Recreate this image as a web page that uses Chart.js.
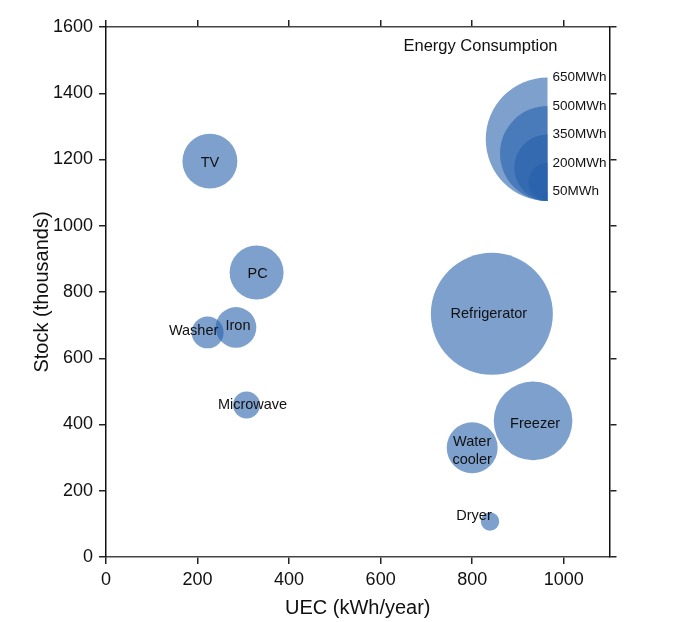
<!DOCTYPE html>
<html>
<head>
<meta charset="utf-8">
<script src="https://cdn.jsdelivr.net/npm/chart.js@4.4.0/dist/chart.umd.min.js"></script>
<style>
  html, body { margin: 0; padding: 0; background: #ffffff; }
  #wrap { width: 696px; height: 622px; }
</style>
</head>
<body>
<div id="wrap"><canvas id="chart" width="696" height="622"></canvas></div>
<script>
// Appliance data: unit energy consumption, installed stock and annual energy use
const appliances = ['TV', 'PC', 'Washer', 'Iron', 'Microwave', 'Refrigerator', 'Freezer', 'Water cooler', 'Dryer'];
const uecKWh = [227, 329, 222, 284, 307, 843, 933, 800, 839];
const stockThousands = [1195, 859, 678, 693, 459, 734, 411, 330, 107];
const energyMWh = [289, 284, 168, 214, 142, 642, 414, 268, 97];

// Size key values
const legendSizes = [650, 500, 350, 200, 50];

// Axis ranges and tick spacing
const xRange = [0, 1100];
const yRange = [0, 1600];
const tickStep = 200;

// Bubble radius in pixels per MWh
const RADIUS_PER_MWH = 0.095;
const FILL = 'rgba(38, 97, 172, 0.6)';
const FONT = '"Liberation Sans", Arial, sans-serif';

// Where each name sits relative to its bubble centre (pixels)
const labelOffsets = {
  'TV': [0, 2], 'PC': [1, 2], 'Washer': [-14, -1], 'Iron': [2, -1],
  'Microwave': [6, 0], 'Refrigerator': [-3, 0], 'Freezer': [2, 3],
  'Water cooler': [0, 3], 'Dryer': [-16, -6]
};

const points = appliances.map((name, i) => ({
  x: uecKWh[i], y: stockThousands[i], r: energyMWh[i] * RADIUS_PER_MWH, name
}));

const bubbleLabels = {
  id: 'bubbleLabels',
  afterDatasetsDraw(chart) {
    const { ctx, scales } = chart;
    ctx.save();
    ctx.font = '14.5px ' + FONT;
    ctx.fillStyle = '#111';
    ctx.textAlign = 'center';
    ctx.textBaseline = 'middle';
    points.forEach(p => {
      const cx = scales.x.getPixelForValue(p.x);
      const cy = scales.y.getPixelForValue(p.y);
      const [dx, dy] = labelOffsets[p.name] || [0, 0];
      const lines = p.name === 'Water cooler' ? ['Water', 'cooler'] : [p.name];
      const lh = 18;
      lines.forEach((ln, k) => {
        ctx.fillText(ln, cx + dx, cy + dy + (k - (lines.length - 1) / 2) * lh);
      });
    });
    ctx.restore();
  }
};

const sizeKey = {
  id: 'sizeKey',
  afterDraw(chart) {
    const { ctx, chartArea } = chart;
    const rightX = chartArea.right - 62;
    const baseY = chartArea.top + 174;
    ctx.save();
    ctx.fillStyle = FILL;
    legendSizes.forEach(v => {
      const r = v * RADIUS_PER_MWH;
      ctx.beginPath();
      ctx.arc(rightX, baseY - r, r, Math.PI / 2, Math.PI * 3 / 2);
      ctx.closePath();
      ctx.fill();
    });
    ctx.fillStyle = '#111';
    ctx.font = '13.5px ' + FONT;
    ctx.textAlign = 'left';
    ctx.textBaseline = 'middle';
    legendSizes.forEach(v => {
      const r = v * RADIUS_PER_MWH;
      ctx.fillText(v + 'MWh', rightX + 5, baseY - 2 * r);
    });
    ctx.font = '16.5px ' + FONT;
    ctx.textAlign = 'center';
    ctx.fillText('Energy Consumption', chartArea.right - 129, chartArea.top + 19);
    ctx.restore();
  }
};

const tickFont = { family: FONT, size: 18 };
const plainNumber = v => String(v);
const vGrid = { drawOnChartArea: false, drawTicks: true, tickLength: 7, color: '#222', lineWidth: 1.5 };
const hGrid = { drawOnChartArea: false, drawTicks: true, tickLength: 7, color: '#222', lineWidth: 1.5 };

new Chart(document.getElementById('chart'), {
  type: 'bubble',
  data: {
    datasets: [{
      data: points,
      backgroundColor: FILL,
      borderWidth: 0,
      hoverBorderWidth: 0
    }]
  },
  options: {
    responsive: false,
    animation: false,
    devicePixelRatio: 1,
    layout: { padding: 0, autoPadding: false },
    plugins: { legend: { display: false }, tooltip: { enabled: false } },
    scales: {
      x: {
        type: 'linear', position: 'bottom', min: xRange[0], max: xRange[1],
        afterFit: s => { s.height = 65; },
        border: { display: true, color: '#444', width: 1.5 },
        grid: hGrid,
        ticks: { stepSize: tickStep, includeBounds: false, color: '#111', font: tickFont, padding: 5, maxRotation: 0, callback: plainNumber },
        title: { display: true, text: 'UEC (kWh/year)', color: '#111', font: { family: FONT, size: 20 }, padding: { top: 0, bottom: 2 } }
      },
      xTop: {
        type: 'linear', position: 'top', min: xRange[0], max: xRange[1],
        afterFit: s => { s.height = 27; },
        border: { display: true, color: '#444', width: 1.5 },
        grid: hGrid,
        ticks: { stepSize: tickStep, includeBounds: false, display: false }
      },
      y: {
        type: 'linear', position: 'left', min: yRange[0], max: yRange[1],
        afterFit: s => { s.width = 106; },
        border: { display: true, color: '#111', width: 1.5 },
        grid: vGrid,
        ticks: { stepSize: tickStep, includeBounds: false, color: '#111', font: tickFont, padding: 6, callback: plainNumber },
        title: { display: true, text: 'Stock (thousands)', color: '#111', font: { family: FONT, size: 20 }, padding: { top: 30, bottom: 0 } }
      },
      yRight: {
        type: 'linear', position: 'right', min: yRange[0], max: yRange[1],
        afterFit: s => { s.width = 86.5; },
        border: { display: true, color: '#111', width: 1.5 },
        grid: vGrid,
        ticks: { stepSize: tickStep, includeBounds: false, display: false }
      }
    }
  },
  plugins: [bubbleLabels, sizeKey]
});
</script>
</body>
</html>
